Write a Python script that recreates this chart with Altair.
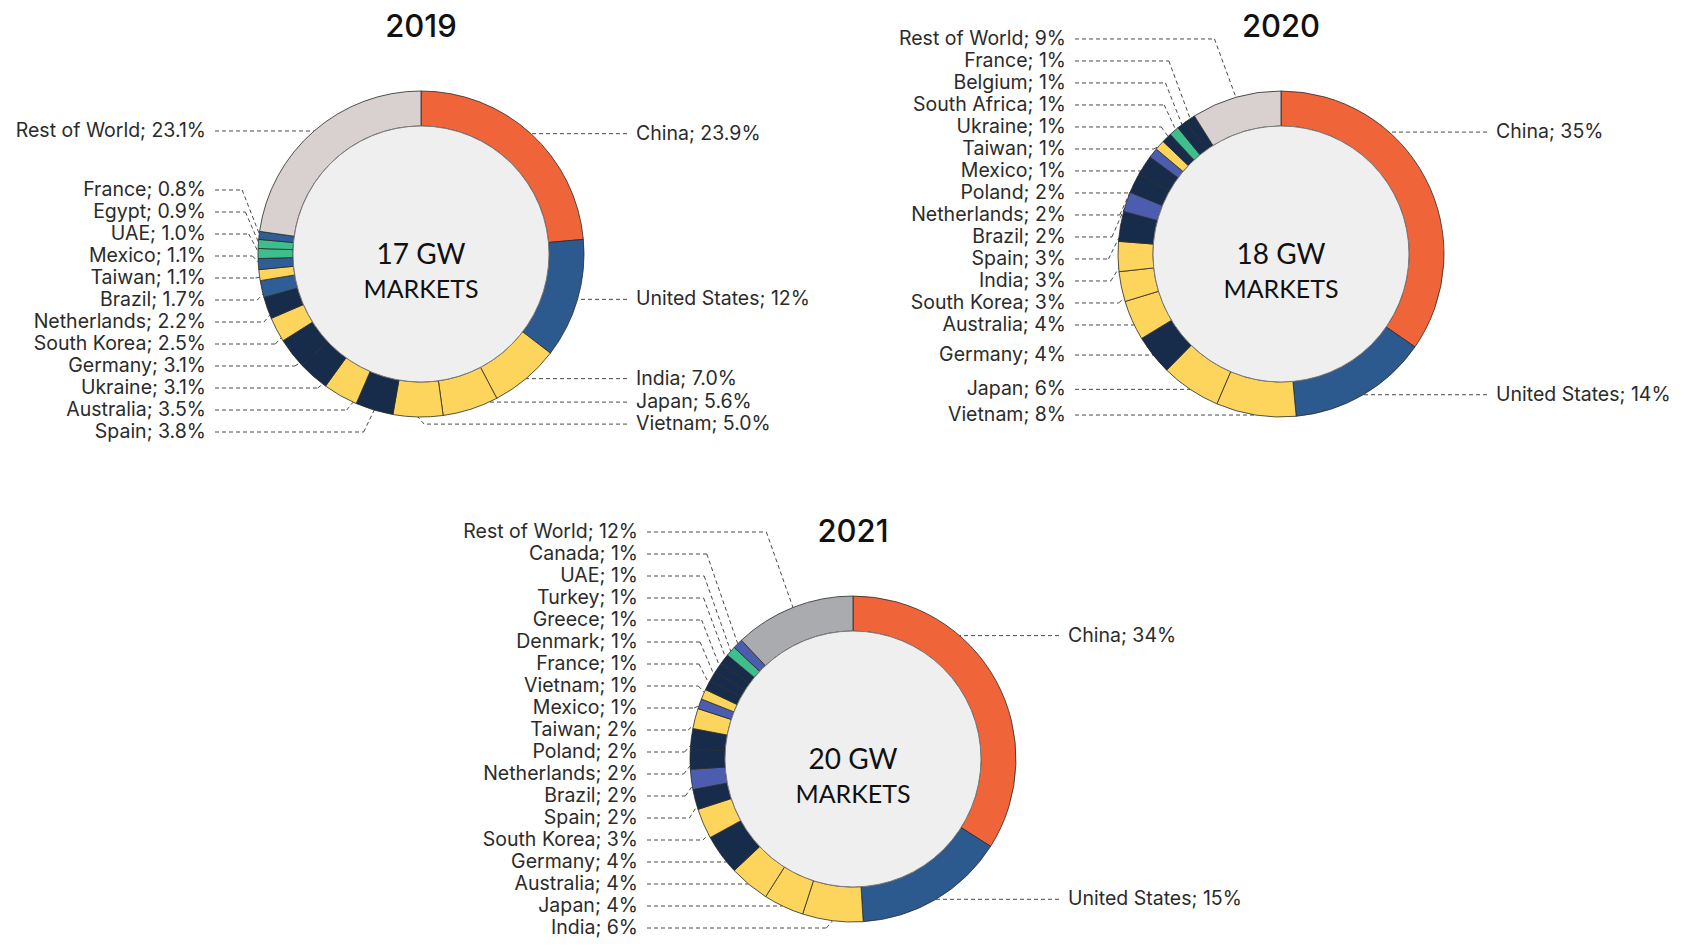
import math
import altair as alt
import pandas as pd

# ---------------- data ----------------
years = ["2019", "2020", "2021"]
capacity = ["17 GW", "18 GW", "20 GW"]

countries_2019 = ["China", "United States", "India", "Japan", "Vietnam", "Spain", "Australia",
                  "Ukraine", "Germany", "South Korea", "Netherlands", "Brazil", "Taiwan", "Mexico",
                  "UAE", "Egypt", "France", "Rest of World"]
shares_2019 = ["23.9", "12", "7.0", "5.6", "5.0", "3.8", "3.5", "3.1", "3.1", "2.5", "2.2", "1.7",
               "1.1", "1.1", "1.0", "0.9", "0.8", "23.1"]
groups_2019 = ["cn", "us", "y", "y", "y", "n", "y", "n", "n", "y", "n", "b", "y", "b", "g", "g",
               "b", "row"]

countries_2020 = ["China", "United States", "Vietnam", "Japan", "Germany", "Australia",
                  "South Korea", "India", "Spain", "Brazil", "Netherlands", "Poland", "Mexico",
                  "Taiwan", "Ukraine", "South Africa", "Belgium", "France", "Rest of World"]
shares_2020 = ["35", "14", "8", "6", "4", "4", "3", "3", "3", "2", "2", "2", "1", "1", "1", "1",
               "1", "1", "9"]
groups_2020 = ["cn", "us", "y", "y", "n", "y", "y", "y", "n", "p", "n", "n", "p", "y", "n", "g",
               "n", "n", "row"]

countries_2021 = ["China", "United States", "India", "Japan", "Australia", "Germany",
                  "South Korea", "Spain", "Brazil", "Netherlands", "Poland", "Taiwan", "Mexico",
                  "Vietnam", "France", "Denmark", "Greece", "Turkey", "UAE", "Canada",
                  "Rest of World"]
shares_2021 = ["34", "15", "6", "4", "4", "4", "3", "2", "2", "2", "2", "2", "1", "1", "1", "1",
               "1", "1", "1", "1", "12"]
groups_2021 = ["cn", "us", "y", "y", "y", "n", "y", "n", "p", "n", "n", "y", "p", "y", "n", "n",
               "n", "n", "g", "p", "row2"]

# ---------------- styles / layout ----------------
COLORS = {"cn": "#F0643A", "us": "#2D5A8E", "b": "#2F5E96", "y": "#FDD55C", "n": "#172B4A",
          "p": "#4C5DB0", "g": "#3DBE8C", "row": "#D8D1D0", "row2": "#A9ABAF"}
CENTERS = {"2019": (421, 254), "2020": (1281, 254), "2021": (853, 759)}
R_OUT, R_IN = 163, 128
GAP = 22
LABEL_OFF = 215
LINE_OFF = 206
W, H = 1669, 930
PX, PY = 8, 8
FONT = "Inter"


def spread(ideal, gap, lo, hi):
    """least-squares placement with a minimum gap (pool adjacent violators)"""
    n = len(ideal)
    z = [ideal[i] - gap * i for i in range(n)]
    blocks = []
    for v in z:
        blocks.append([v, 1])
        while len(blocks) > 1 and blocks[-2][0] / blocks[-2][1] > blocks[-1][0] / blocks[-1][1]:
            s, c = blocks.pop()
            blocks[-1][0] += s
            blocks[-1][1] += c
    out = []
    for s, c in blocks:
        out += [s / c] * c
    top = lo
    bot = hi - gap * (n - 1)
    out = [min(max(v, top), bot) for v in out]
    return [out[i] + gap * i for i in range(n)]


seg_rows, lab_rows, ctr_rows = [], [], []
datasets = [(countries_2019, shares_2019, groups_2019),
            (countries_2020, shares_2020, groups_2020),
            (countries_2021, shares_2021, groups_2021)]

for year, cap, (countries, shares, groups) in zip(years, capacity, datasets):
    cx, cy = CENTERS[year]
    ctr_rows.append(dict(year=year, cap=cap, cx=cx, cy=cy, ty=cy - 217, t1=cy + 10, t2=cy + 44,
                         word="MARKETS"))
    vals = [float(s) for s in shares]
    tot = sum(vals)
    cum = 0.0
    items = []
    for c, s, v, g in zip(countries, shares, vals, groups):
        f0 = cum / tot
        cum += v
        f1 = cum / tot
        seg_rows.append(dict(year=year, country=c, cx=cx, cy=cy, f0=f0, f1=f1, color=COLORS[g]))
        a0, a1 = 360 * f0, 360 * f1
        span = a1 - a0
        am = a0 + span / 3 if span > 100 else (a0 + a1) / 2
        side = "right" if (a0 + a1) / 2 < 185 else "left"
        ideal = cy - R_OUT * math.cos(math.radians(am))
        items.append(dict(country=c, text=f"{c}; {s}%", a0=a0, a1=a1, am=am, side=side,
                          ideal=ideal))
    for side in ("left", "right"):
        its = sorted([i for i in items if i["side"] == side], key=lambda i: i["ideal"])
        if not its:
            continue
        lys = spread([i["ideal"] for i in its], GAP, cy - 238, min(cy + 178, 928))
        sgn = -1 if side == "left" else 1
        for it, ly in zip(its, lys):
            dyc = (cy - ly) / R_OUT
            if abs(dyc) < 1:
                base = math.degrees(math.acos(dyc))
                a = base if side == "right" else 360 - base
                inset = min(1.2, (it["a1"] - it["a0"]) * 0.3)
                a = min(max(a, it["a0"] + inset), it["a1"] - inset)
            else:
                a = it["am"]
            ex = cx + R_OUT * math.sin(math.radians(a))
            ey = cy - R_OUT * math.cos(math.radians(a))
            dy = abs(ey - ly)
            if dy < 0.6:
                ey = ly
                kx = ex
            else:
                kx = ex + sgn * (0.3 * dy + 4)
            sx = cx + sgn * LINE_OFF
            if side == "left":
                kx = max(kx, sx + 4)
            else:
                kx = min(kx, sx - 4)
            lab_rows.append(dict(year=year, side=side, text=it["text"], lx=cx + sgn * LABEL_OFF,
                                 ly=ly, sx=sx, kx=kx, ex=ex, ey=ey))

seg_df = pd.DataFrame(seg_rows)
lab_df = pd.DataFrame(lab_rows)
ctr_df = pd.DataFrame(ctr_rows)

xs = alt.Scale(domain=[PX, PX + W], nice=False, zero=False)
ys = alt.Scale(domain=[PY, PY + H], nice=False, zero=False, reverse=True)


def X(f):
    return alt.X(f, type="quantitative", scale=xs, axis=None)


def Y(f):
    return alt.Y(f, type="quantitative", scale=ys, axis=None)


dash = [4, 3]
lines_h = alt.Chart(lab_df).mark_rule(color="#4a4a4a", strokeWidth=1, strokeDash=dash).encode(
    x=X("sx"), x2=alt.X2("kx"), y=Y("ly"), y2=alt.Y2("ly"))
lines_d = alt.Chart(lab_df).mark_rule(color="#4a4a4a", strokeWidth=1, strokeDash=dash).encode(
    x=X("kx"), x2=alt.X2("ex"), y=Y("ly"), y2=alt.Y2("ey"))

ring = alt.Chart(seg_df).mark_arc(radius=R_OUT, radius2=R_IN, stroke="#2a2a2a",
                                  strokeWidth=0.8).encode(
    x=X("cx"), y=Y("cy"),
    theta=alt.Theta("f0:Q", scale=alt.Scale(domain=[0, 1], range=[0, 2 * math.pi])),
    theta2=alt.Theta2("f1"),
    color=alt.Color("color:N", scale=None),
)

disk = alt.Chart(ctr_df).mark_arc(radius=R_IN, radius2=0, theta=0, theta2=2 * math.pi,
                                  fill="#EFEFEF", stroke="#7a7a7a", strokeWidth=1).encode(
    x=X("cx"), y=Y("cy"))

titles = alt.Chart(ctr_df).mark_text(font=FONT, fontSize=31, fontWeight=500, color="#111111",
                                     baseline="alphabetic", align="center").encode(
    x=X("cx"), y=Y("ty"), text="year:N")
cap1 = alt.Chart(ctr_df).mark_text(font="Lato", fontSize=28, color="#111111",
                                   baseline="alphabetic", align="center").encode(
    x=X("cx"), y=Y("t1"), text="cap:N")
cap2 = alt.Chart(ctr_df).mark_text(font="Lato", fontSize=25, color="#111111",
                                   baseline="alphabetic", align="center").encode(
    x=X("cx"), y=Y("t2"), text="word:N")

lab_left = alt.Chart(lab_df).transform_filter(alt.datum.side == "left").mark_text(
    font=FONT, fontSize=19.5, color="#2b2b2b", align="right", baseline="middle").encode(
    x=X("lx"), y=Y("ly"), text="text:N")
lab_right = alt.Chart(lab_df).transform_filter(alt.datum.side == "right").mark_text(
    font=FONT, fontSize=19.5, color="#2b2b2b", align="left", baseline="middle").encode(
    x=X("lx"), y=Y("ly"), text="text:N")

chart = alt.layer(lines_h, lines_d, ring, disk, titles, cap1, cap2, lab_left, lab_right).properties(
    width=W, height=H, padding=0, autosize=alt.AutoSizeParams(type="none"),
    background="white",
).configure_view(stroke=None)

chart.save("out.html", embed_options={"renderer": "svg", "actions": False})
